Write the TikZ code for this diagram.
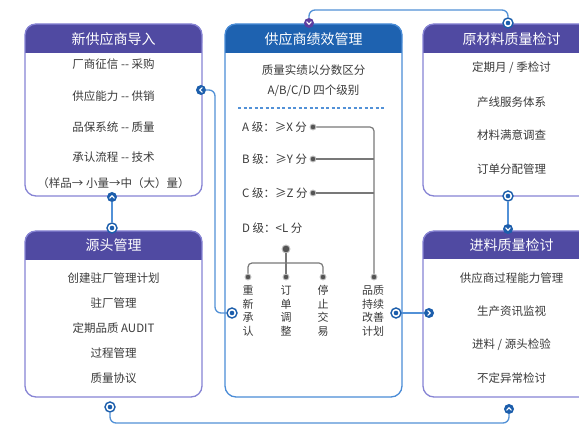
\documentclass[tikz,border=0pt]{standalone}
\usepackage{fontspec}
\newfontfamily\cjk{Noto Sans CJK SC}
\definecolor{hdrP}{RGB}{80,74,162}
\definecolor{hdrB}{RGB}{30,98,176}
\definecolor{edgeP}{RGB}{135,132,212}
\definecolor{edgeB}{RGB}{74,140,215}
\definecolor{linkB}{RGB}{82,145,215}
\definecolor{iconB}{RGB}{28,94,172}
\definecolor{iconP}{RGB}{92,62,160}
\definecolor{txtG}{RGB}{58,58,58}
\definecolor{twigG}{RGB}{120,120,120}
\begin{document}
\begin{tikzpicture}[x=1pt,y=-1pt,
    hdtext/.style={font=\cjk\fontsize{14}{16}\selectfont, text=white, inner sep=0},
    item/.style={font=\cjk\fontsize{11.5}{13}\selectfont, text=txtG, inner sep=0},
    vtext/.style={item, align=center, font=\cjk\fontsize{11}{13.5}\selectfont},
    link/.style={draw=linkB, line width=1.3pt, rounded corners=6},
    twig/.style={draw=twigG, line width=1.2pt},
    chevbase/.style={circle, fill=iconB, inner sep=0, minimum size=10pt},
    chevmark/.style={white, line width=1.2pt, line cap=round, line join=round,
      shift={(path picture bounding box.center)}},
    chevD/.style={chevbase, path picture={\draw[chevmark] (-2.2pt,1.1pt) -- (0pt,-1.2pt) -- (2.2pt,1.1pt);}},
    chevU/.style={chevbase, path picture={\draw[chevmark] (-2.2pt,-1.1pt) -- (0pt,1.2pt) -- (2.2pt,-1.1pt);}},
    chevL/.style={chevbase, path picture={\draw[chevmark] (1.1pt,2.2pt) -- (-1.2pt,0pt) -- (1.1pt,-2.2pt);}},
    chevR/.style={chevbase, path picture={\draw[chevmark] (-1.1pt,2.2pt) -- (1.2pt,0pt) -- (-1.1pt,-2.2pt);}},
    ring/.style={circle, fill=white, draw=iconB, line width=1.4pt, inner sep=0, minimum size=10pt,
      path picture={\fill[iconB] (path picture bounding box.center) circle (2.3pt);}},
    pip/.style={circle, fill=twigG!70!black, draw=twigG!45!white, line width=0.9pt, inner sep=0, minimum size=6pt}
  ]
  \useasboundingbox (0,0) rectangle (579,427);
  \clip (0,0) rectangle (579,427);
  \fill[white] (0,0) rectangle (579,427);

  % Riquadri viola
  \foreach \xa/\ya/\xb/\yb/\yh in {25/24/202/196/53, 25/231/202/397/260, 423/24/600/196/53, 423/231/600/397/259}{
    \fill[white, rounded corners=11] (\xa,\ya) rectangle (\xb,\yb);
    \fill[hdrP, rounded corners=10] (\xa,\ya) rectangle (\xb,\yh);
    \fill[hdrP] (\xa,\yh-10) rectangle (\xb,\yh);
    \draw[edgeP, line width=1.3pt, rounded corners=11] (\xa,\ya) rectangle (\xb,\yb);
  }
  % Riquadro centrale
  \fill[white, rounded corners=11] (225,24) rectangle (402,397);
  \fill[hdrB, rounded corners=10] (225,24) rectangle (402,53);
  \fill[hdrB] (225,43) rectangle (402,53);
  \draw[edgeB, line width=1.3pt, rounded corners=11] (225,24) rectangle (402,397);

  % Titoli
  \node[hdtext] (tNew) at (113.5,39) {新供应商导入};
  \node[hdtext] (tSrc) at (113.5,245) {源头管理};
  \node[hdtext] (tPerf) at (313.5,39) {供应商绩效管理};
  \node[hdtext] (tRaw) at (511.5,39) {原材料质量检讨};
  \node[hdtext] (tIn) at (511.5,245) {进料质量检讨};

  % Voci
  \foreach \t/\y [count=\i] in {厂商征信 -{}- 采购/64, 供应能力 -{}- 供销/96, 品保系统 -{}- 质量/127,
      承认流程 -{}- 技术/157, （样品→ 小量→中（大）量）/183}
    \node[item] (new\i) at (113.5,\y) {\t};
  \foreach \t/\y [count=\i] in {创建驻厂管理计划/278, 驻厂管理/303, 定期品质 AUDIT/328, 过程管理/353, 质量协议/378}
    \node[item] (src\i) at (113.5,\y) {\t};
  \foreach \t/\y [count=\i] in {{定期月 / 季检讨}/68, 产线服务体系/102, 材料满意调查/135, 订单分配管理/169}
    \node[item] (raw\i) at (511.5,\y) {\t};
  \foreach \t/\y [count=\i] in {供应商过程能力管理/278, 生产资讯监视/311, {进料 / 源头检验}/345, 不定异常检讨/378}
    \node[item] (in\i) at (511.5,\y) {\t};

  % Centro
  \node[item] (perf1) at (313.5,70) {质量实绩以分数区分};
  \node[item] (perf2) at (313.5,91) {A/B/C/D 四个级别};
  \draw[linkB, line width=1.2pt, dash pattern=on 3pt off 2.5pt] (238,108) -- (386,108);

  \node[item, anchor=west] (gA) at (242,127) {A 级：≥X 分};
  \node[item, anchor=west] (gB) at (242,159) {B 级：≥Y 分};
  \node[item, anchor=west] (gC) at (242,193) {C 级：≥Z 分};
  \node[item, anchor=west] (gD) at (242,228) {D 级：<L 分};

  \node[pip] (pA) at (313,127) {};
  \node[pip] (pB) at (313,159) {};
  \node[pip] (pC) at (313,193) {};
  \node[pip] (pP) at (374,277) {};
  \node[pip, minimum size=8pt] (pD) at (286,249) {};
  \node[pip] (p1) at (248,277) {};
  \node[pip] (p2) at (286,277) {};
  \node[pip] (p3) at (323,277) {};

  \coordinate (trunk) at (374,127);
  \coordinate (fork) at (286,263);
  \draw[twig, rounded corners=4] (pA.east) -- (trunk) -- (pP.north);
  \draw[twig] (pB.east) -- (pB -| trunk);
  \draw[twig] (pC.east) -- (pC -| trunk);
  \draw[twig] (pD.south) -- (p2.north);
  \draw[twig, rounded corners=4] (p1.north) |- (fork) -| (p3.north);

  \node[vtext] (act1) at (248,311) {重\\新\\承\\认};
  \node[vtext] (act2) at (286,311) {订\\单\\调\\整};
  \node[vtext] (act3) at (323,311) {停\\止\\交\\易};
  \node[vtext] (act4) at (373,311) {品质\\持续\\改善\\计划};

  % Icone
  \node[chevD, fill=iconP] (cTop) at (309,23) {};
  \node[ring] (rRawT) at (508,23) {};
  \node[ring] (rRawB) at (508,196) {};
  \node[chevD] (cInT) at (508,229) {};
  \node[chevU] (cInB) at (509,409) {};
  \node[chevU] (cNewB) at (112,197) {};
  \node[ring] (rSrcT) at (112,228) {};
  \node[ring] (rSrcB) at (110,407) {};
  \node[chevL] (cNewR) at (201,90) {};
  \node[ring] (rPerfL) at (232,313) {};
  \node[ring] (rPerfR) at (396,313) {};
  \node[chevR] (cInL) at (429,313) {};

  % Collegamenti
  \coordinate (toprail) at (400,10);
  \coordinate (botrail) at (300,423);
  \coordinate (leftrail) at (215,200);
  \draw[link] (cTop.north) |- (toprail) -| (rRawT.north);
  \draw[link] (rRawB.south) -- (cInT.north);
  \draw[link] (cNewB.south) -- (rSrcT.north);
  \draw[link] (rSrcB.south) |- (botrail) -| (cInB.south);
  \draw[link] (rPerfL.west) -| (leftrail) |- (cNewR.east);
  \draw[link] (rPerfR.east) -- (cInL.west);
\end{tikzpicture}
\end{document}
